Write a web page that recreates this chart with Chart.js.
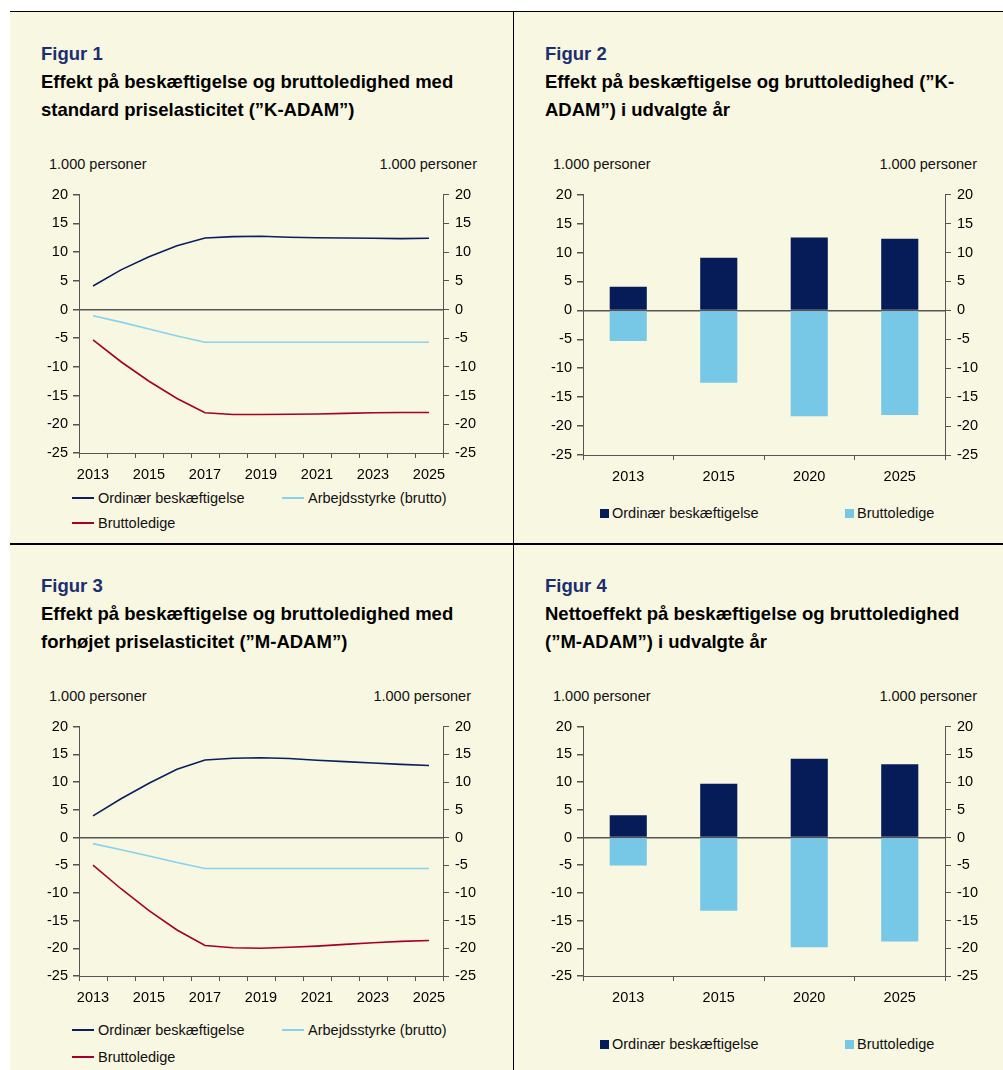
<!DOCTYPE html>
<html>
<head>
<meta charset="utf-8">
<script src="https://cdn.jsdelivr.net/npm/chart.js@4.4.1/dist/chart.umd.min.js"></script>
<style>
    body { margin: 0; background: #fff; font-family: "Liberation Sans", Arial, sans-serif; }
    #page { position: relative; width: 1003px; height: 1070px; overflow: hidden; }
    .bg { position: absolute; left: 10px; top: 11px; width: 993px; height: 1059px; background: #f8f7e1; }
    .rule { position: absolute; background: #000; }
    .head { position: absolute; font-weight: bold; font-size: 18.5px; line-height: 28px; color: #000; white-space: nowrap; }
    .head .fig { color: #1b2e6d; }
    .txt { position: absolute; font-size: 14.5px; line-height: 18px; color: #111; white-space: nowrap; }
    .unit-r { text-align: right; }
    .lg-line { position: absolute; height: 2px; width: 22px; }
    .lg-box { position: absolute; width: 9px; height: 9px; }
    canvas { position: absolute; }
</style>
</head>
<body>
<div id="page">
    <div class="bg"></div>
    <div class="rule" style="left:10px;top:11px;width:993px;height:1px"></div>
    <div class="rule" style="left:10px;top:543px;width:993px;height:2px"></div>
    <div class="rule" style="left:513px;top:11px;width:1px;height:1059px"></div>

    <div class="head" style="left:41px;top:40px"><span class="fig">Figur 1</span><br>Effekt på beskæftigelse og bruttoledighed med<br>standard priselasticitet (”K-ADAM”)</div>
    <div class="head" style="left:545px;top:40px"><span class="fig">Figur 2</span><br>Effekt på beskæftigelse og bruttoledighed (”K-<br>ADAM”) i udvalgte år</div>
    <div class="head" style="left:41px;top:572px"><span class="fig">Figur 3</span><br>Effekt på beskæftigelse og bruttoledighed med<br>forhøjet priselasticitet (”M-ADAM”)</div>
    <div class="head" style="left:545px;top:572px"><span class="fig">Figur 4</span><br>Nettoeffekt på beskæftigelse og bruttoledighed<br>(”M-ADAM”) i udvalgte år</div>

    <div class="txt" style="left:49px;top:155px">1.000 personer</div>
    <div class="txt unit-r" style="left:377px;top:155px;width:100px">1.000 personer</div>
    <div class="txt" style="left:553px;top:155px">1.000 personer</div>
    <div class="txt unit-r" style="left:877px;top:155px;width:100px">1.000 personer</div>
    <div class="txt" style="left:49px;top:687px">1.000 personer</div>
    <div class="txt unit-r" style="left:371px;top:687px;width:100px">1.000 personer</div>
    <div class="txt" style="left:553px;top:687px">1.000 personer</div>
    <div class="txt unit-r" style="left:877px;top:687px;width:100px">1.000 personer</div>

    <canvas id="fig1"></canvas>
    <canvas id="fig2"></canvas>
    <canvas id="fig3"></canvas>
    <canvas id="fig4"></canvas>

    <div id="legends"></div>
</div>

<script>
const years = ["2013", "2014", "2015", "2016", "2017", "2018", "2019", "2020", "2021", "2022", "2023", "2024", "2025"];
const barYears = ["2013", "2015", "2020", "2025"];

const fig1Ordinaer = [4.1, 6.9, 9.2, 11.1, 12.45, 12.7, 12.75, 12.6, 12.5, 12.45, 12.4, 12.35, 12.4];
const fig1Arbejdsstyrke = [-1.1, -2.2, -3.4, -4.6, -5.7, -5.7, -5.7, -5.7, -5.7, -5.7, -5.7, -5.7, -5.7];
const fig1Bruttoledige = [-5.3, -9.1, -12.5, -15.5, -18.0, -18.3, -18.3, -18.25, -18.2, -18.1, -18.0, -17.95, -17.95];

const fig2Ordinaer = [4.1, 9.1, 12.6, 12.4];
const fig2Bruttoledige = [-5.3, -12.5, -18.3, -18.1];

const fig3Ordinaer = [3.9, 7.0, 9.8, 12.3, 14.0, 14.3, 14.4, 14.25, 13.95, 13.7, 13.45, 13.2, 13.0];
const fig3Arbejdsstyrke = [-1.1, -2.2, -3.35, -4.5, -5.6, -5.6, -5.6, -5.6, -5.6, -5.6, -5.6, -5.6, -5.6];
const fig3Bruttoledige = [-5.0, -9.25, -13.2, -16.7, -19.5, -19.9, -20.0, -19.8, -19.6, -19.3, -19.0, -18.75, -18.6];

const fig4Ordinaer = [4.0, 9.7, 14.2, 13.2];
const fig4Bruttoledige = [-5.05, -13.2, -19.8, -18.75];

const yMin = -25;
const yMax = 20;
const yStep = 5;

const navy = "#0b1f5e";
const navyBar = "#051c59";
const lightBlue = "#86d2ef";
const lightBlueBar = "#77c8e6";
const red = "#a3002b";
const axisColor = "#555555";
const font = { family: "'Liberation Sans', Arial, sans-serif", size: 14.5 };

// plot areas in page pixels
const areas = {
    fig1: { l: 79, t: 194, r: 443, b: 453 },
    fig2: { l: 583, t: 194, r: 945, b: 455 },
    fig3: { l: 79, t: 726, r: 443, b: 976 },
    fig4: { l: 583, t: 726, r: 945, b: 976 },
};
const LEFT_W = 60, RIGHT_W = 57, TOP_PAD = 14, X_H = 30;

function placeCanvas(id) {
    const a = areas[id];
    const c = document.getElementById(id);
    c.width = (a.r + RIGHT_W) - (a.l - LEFT_W);
    c.height = (a.b + X_H) - (a.t - TOP_PAD);
    c.style.left = (a.l - LEFT_W) + "px";
    c.style.top = (a.t - TOP_PAD) + "px";
    return c;
}

function scales(isBar) {
    return {
        x: {
            stacked: isBar,
            offset: true,
            grid: { offset: true, drawOnChartArea: false, tickLength: 5, tickColor: axisColor },
            border: { color: axisColor },
            ticks: {
                autoSkip: false,
                maxRotation: 0,
                padding: 8,
                color: "#000",
                font: font,
                callback: function (v, i) {
                    // line charts only label every other year
                    if (!isBar && i % 2 !== 0) return "";
                    return this.getLabelForValue(v);
                }
            },
            afterFit: s => { s.height = X_H; }
        },
        y: {
            stacked: isBar,
            position: "left",
            min: yMin,
            max: yMax,
            grid: {
                color: c => (c.tick && c.tick.value === 0) ? axisColor : "rgba(0,0,0,0)",
                lineWidth: 1.5,
                tickColor: axisColor,
                tickLength: 6,
            },
            border: { color: axisColor },
            ticks: { stepSize: yStep, padding: 5, color: "#000", font: font },
            afterFit: s => { s.width = LEFT_W; }
        },
        y2: {
            position: "right",
            min: yMin,
            max: yMax,
            grid: { drawOnChartArea: false, tickColor: axisColor, tickLength: 6 },
            border: { color: axisColor },
            ticks: { stepSize: yStep, padding: 6, color: "#000", font: font },
            afterFit: s => { s.width = RIGHT_W; }
        }
    };
}

function baseOptions(isBar) {
    return {
        responsive: false,
        animation: false,
        layout: { padding: { top: TOP_PAD, left: 0, right: 0, bottom: 0 } },
        plugins: { legend: { display: false }, tooltip: { enabled: false } },
        scales: scales(isBar)
    };
}

function lineChart(id, ordinaer, arbejdsstyrke, bruttoledige) {
    const ctx = placeCanvas(id);
    new Chart(ctx, {
        type: "line",
        data: {
            labels: years,
            datasets: [
                { label: "Ordinær beskæftigelse", data: ordinaer, borderColor: navy, borderWidth: 1.6, pointRadius: 0 },
                { label: "Arbejdsstyrke (brutto)", data: arbejdsstyrke, borderColor: lightBlue, borderWidth: 1.6, pointRadius: 0 },
                { label: "Bruttoledige", data: bruttoledige, borderColor: red, borderWidth: 1.6, pointRadius: 0 },
            ]
        },
        options: baseOptions(false)
    });
}

function barChart(id, ordinaer, bruttoledige) {
    const ctx = placeCanvas(id);
    new Chart(ctx, {
        type: "bar",
        data: {
            labels: barYears,
            datasets: [
                { label: "Ordinær beskæftigelse", data: ordinaer, backgroundColor: navyBar, barPercentage: 0.41, categoryPercentage: 1 },
                { label: "Bruttoledige", data: bruttoledige, backgroundColor: lightBlueBar, barPercentage: 0.41, categoryPercentage: 1 },
            ]
        },
        options: baseOptions(true)
    });
}

lineChart("fig1", fig1Ordinaer, fig1Arbejdsstyrke, fig1Bruttoledige);
barChart("fig2", fig2Ordinaer, fig2Bruttoledige);
lineChart("fig3", fig3Ordinaer, fig3Arbejdsstyrke, fig3Bruttoledige);
barChart("fig4", fig4Ordinaer, fig4Bruttoledige);

// legends (html)
const legends = document.getElementById("legends");
function lineItem(x, y, color, text) {
    legends.insertAdjacentHTML("beforeend",
        `<div class="lg-line" style="left:${x}px;top:${y - 1}px;background:${color}"></div>` +
        `<div class="txt" style="left:${x + 26}px;top:${y - 9}px">${text}</div>`);
}
function boxItem(x, y, color, text) {
    legends.insertAdjacentHTML("beforeend",
        `<div class="lg-box" style="left:${x}px;top:${y - 4}px;background:${color}"></div>` +
        `<div class="txt" style="left:${x + 12}px;top:${y - 9}px">${text}</div>`);
}
lineItem(72, 498, navy, "Ordinær beskæftigelse");
lineItem(282, 498, lightBlue, "Arbejdsstyrke (brutto)");
lineItem(72, 523, red, "Bruttoledige");
lineItem(72, 1030, navy, "Ordinær beskæftigelse");
lineItem(282, 1030, lightBlue, "Arbejdsstyrke (brutto)");
lineItem(72, 1057, red, "Bruttoledige");
boxItem(600, 513, navyBar, "Ordinær beskæftigelse");
boxItem(845, 513, lightBlueBar, "Bruttoledige");
boxItem(600, 1044, navyBar, "Ordinær beskæftigelse");
boxItem(845, 1044, lightBlueBar, "Bruttoledige");
</script>
</body>
</html>
